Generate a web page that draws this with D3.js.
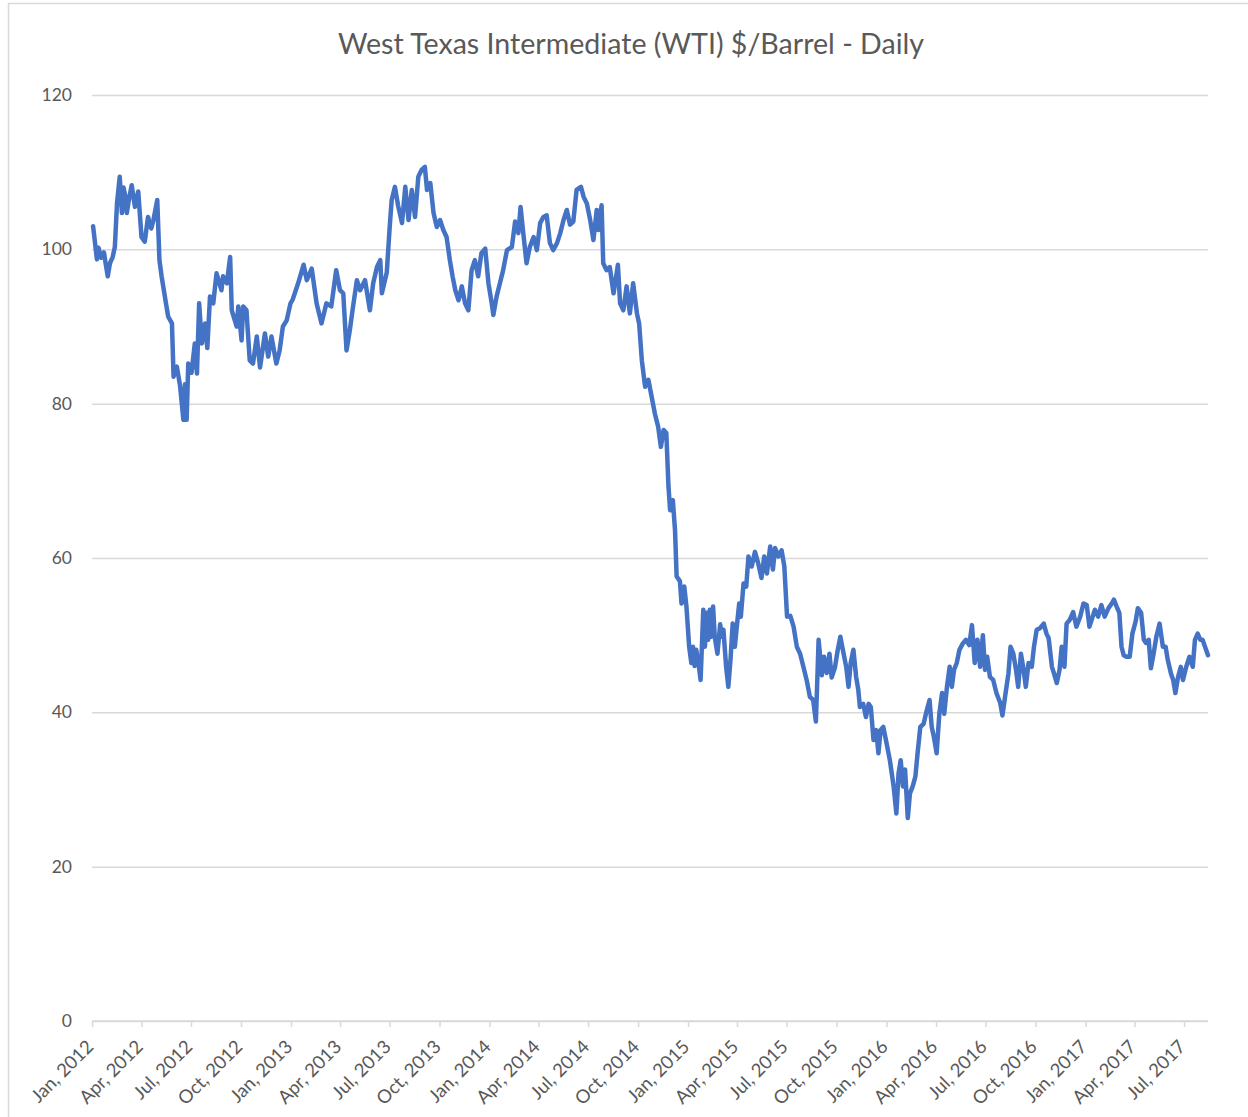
<!DOCTYPE html>
<html>
<head>
<meta charset="utf-8">
<script src="https://cdn.jsdelivr.net/npm/d3@7"></script>
<style>
  html, body { margin: 0; padding: 0; background: #fff; }
  svg { display: block; }
  text { font-family: Lato, "Open Sans", sans-serif; fill: #595959; }
</style>
</head>
<body>
<svg id="chart" width="1248" height="1117"></svg>
<script>
const title = "West Texas Intermediate (WTI) $/Barrel - Daily";
const yTicks = [0, 20, 40, 60, 80, 100, 120];
const tickDates = ["2012-01-01","2012-04-01","2012-07-01","2012-10-01","2013-01-01","2013-04-01","2013-07-01","2013-10-01","2014-01-01","2014-04-01","2014-07-01","2014-10-01","2015-01-01","2015-04-01","2015-07-01","2015-10-01","2016-01-01","2016-04-01","2016-07-01","2016-10-01","2017-01-01","2017-04-01","2017-07-01"];
const tickLabels = ["Jan, 2012","Apr, 2012","Jul, 2012","Oct, 2012","Jan, 2013","Apr, 2013","Jul, 2013","Oct, 2013","Jan, 2014","Apr, 2014","Jul, 2014","Oct, 2014","Jan, 2015","Apr, 2015","Jul, 2015","Oct, 2015","Jan, 2016","Apr, 2016","Jul, 2016","Oct, 2016","Jan, 2017","Apr, 2017","Jul, 2017"];
const axisStart = "2012-01-01";
const axisEnd = "2017-08-14";

const dates = [
"2012-01-03","2012-01-05","2012-01-10","2012-01-13","2012-01-18","2012-01-23","2012-01-26","2012-01-30","2012-02-03","2012-02-08","2012-02-12","2012-02-16","2012-02-21","2012-02-25","2012-02-28","2012-03-02","2012-03-05","2012-03-09","2012-03-14","2012-03-20","2012-03-26","2012-04-01","2012-04-07","2012-04-13","2012-04-19","2012-04-23","2012-04-30","2012-05-04","2012-05-08","2012-05-16","2012-05-20","2012-05-27","2012-05-30","2012-06-05","2012-06-11","2012-06-17","2012-06-20","2012-06-23","2012-06-26","2012-07-02","2012-07-08","2012-07-12","2012-07-16","2012-07-21","2012-07-27","2012-07-31","2012-08-05","2012-08-11","2012-08-17","2012-08-26","2012-08-29","2012-09-05","2012-09-11","2012-09-14","2012-09-23","2012-09-26","2012-10-02","2012-10-05","2012-10-11","2012-10-17","2012-10-23","2012-10-30","2012-11-05","2012-11-14","2012-11-20","2012-11-26","2012-12-05","2012-12-11","2012-12-17","2012-12-24","2012-12-31",
"2013-01-04","2013-01-14","2013-01-24","2013-01-30","2013-02-08","2013-02-17","2013-02-26","2013-03-07","2013-03-16","2013-03-25","2013-04-01","2013-04-07","2013-04-13","2013-04-19","2013-04-25","2013-05-02","2013-05-08","2013-05-17","2013-05-26","2013-06-01","2013-06-08","2013-06-14","2013-06-17","2013-06-26","2013-07-01","2013-07-05","2013-07-11","2013-07-17","2013-07-24","2013-07-30","2013-08-05","2013-08-11","2013-08-17","2013-08-23","2013-08-29","2013-09-04","2013-09-08","2013-09-14","2013-09-20","2013-09-26","2013-10-02","2013-10-08","2013-10-14","2013-10-20","2013-10-25","2013-10-30","2013-11-05","2013-11-11","2013-11-17","2013-11-23","2013-11-29","2013-12-05","2013-12-11","2013-12-17","2013-12-24","2013-12-30",
"2014-01-05","2014-01-08","2014-01-14","2014-01-20","2014-01-26","2014-02-02","2014-02-11","2014-02-17","2014-02-23","2014-02-27","2014-03-04","2014-03-10","2014-03-16","2014-03-23","2014-03-29","2014-04-04","2014-04-10","2014-04-16","2014-04-22","2014-04-28","2014-05-05","2014-05-11","2014-05-17","2014-05-23","2014-05-29","2014-06-04","2014-06-10","2014-06-18","2014-06-23","2014-06-29","2014-07-05","2014-07-11","2014-07-17","2014-07-20","2014-07-26","2014-07-29","2014-08-04","2014-08-10","2014-08-17","2014-08-25","2014-08-29","2014-09-04","2014-09-10","2014-09-16","2014-09-22","2014-09-29","2014-10-03","2014-10-08","2014-10-14","2014-10-20","2014-10-26","2014-11-01","2014-11-07","2014-11-12","2014-11-17","2014-11-22","2014-11-26","2014-11-29","2014-12-04","2014-12-08","2014-12-11","2014-12-17","2014-12-20","2014-12-25","2014-12-29",
"2015-01-03","2015-01-07","2015-01-10","2015-01-13","2015-01-16","2015-01-21","2015-01-24","2015-01-29","2015-02-01","2015-02-04","2015-02-07","2015-02-10","2015-02-13","2015-02-16","2015-02-19","2015-02-24","2015-03-01","2015-03-04","2015-03-07","2015-03-12","2015-03-16","2015-03-20","2015-03-24","2015-03-28","2015-03-31","2015-04-05","2015-04-08","2015-04-13","2015-04-18","2015-04-22","2015-04-28","2015-05-04","2015-05-10","2015-05-16","2015-05-21","2015-05-26","2015-06-01","2015-06-06","2015-06-10","2015-06-16","2015-06-22","2015-06-27","2015-07-02","2015-07-08","2015-07-14","2015-07-20","2015-07-26","2015-08-01","2015-08-07","2015-08-13","2015-08-19","2015-08-24","2015-08-27","2015-08-29","2015-09-04","2015-09-08","2015-09-13","2015-09-18","2015-09-22","2015-09-28","2015-10-03","2015-10-08","2015-10-14","2015-10-19","2015-10-23","2015-10-27","2015-11-01","2015-11-06","2015-11-10","2015-11-13","2015-11-19","2015-11-24","2015-11-29","2015-12-03","2015-12-08","2015-12-13","2015-12-17","2015-12-21","2015-12-26",
"2016-01-01","2016-01-07","2016-01-14","2016-01-19","2016-01-23","2016-01-27","2016-01-31","2016-02-04","2016-02-09","2016-02-13","2016-02-18","2016-02-23","2016-02-27","2016-03-03","2016-03-09","2016-03-15","2016-03-20","2016-03-24","2016-03-28","2016-04-02","2016-04-07","2016-04-12","2016-04-16","2016-04-21","2016-04-26","2016-04-30","2016-05-04","2016-05-09","2016-05-14","2016-05-20","2016-05-26","2016-06-01","2016-06-06","2016-06-11","2016-06-16","2016-06-21","2016-06-26","2016-06-30","2016-07-04","2016-07-09","2016-07-15","2016-07-21","2016-07-28","2016-08-01","2016-08-06","2016-08-12","2016-08-16","2016-08-21","2016-08-26","2016-08-30","2016-09-04","2016-09-09","2016-09-13","2016-09-18","2016-09-24","2016-09-28","2016-10-03","2016-10-09","2016-10-16","2016-10-21","2016-10-25","2016-10-31","2016-11-04","2016-11-09","2016-11-14","2016-11-18","2016-11-23","2016-11-27","2016-12-03","2016-12-09","2016-12-15","2016-12-22","2016-12-28",
"2017-01-03","2017-01-08","2017-01-14","2017-01-18","2017-01-24","2017-01-30","2017-02-05","2017-02-12","2017-02-18","2017-02-22","2017-02-27","2017-03-04","2017-03-08","2017-03-12","2017-03-17","2017-03-23","2017-03-28","2017-04-03","2017-04-07","2017-04-13","2017-04-18","2017-04-22","2017-04-27","2017-05-01","2017-05-06","2017-05-11","2017-05-17","2017-05-23","2017-05-28","2017-06-01","2017-06-07","2017-06-11","2017-06-15","2017-06-20","2017-06-25","2017-06-29","2017-07-05","2017-07-11","2017-07-17","2017-07-21","2017-07-26","2017-07-31","2017-08-04","2017-08-14"
];

const prices = [
103.0,101.8,98.7,100.2,98.9,99.6,98.2,96.5,98.2,99.0,100.3,106.0,109.4,104.7,108.0,107.0,104.7,106.5,108.3,105.5,107.5,101.6,101.0,104.2,102.7,103.8,106.4,98.6,96.5,93.0,91.3,90.4,83.5,84.8,82.3,77.9,82.5,77.9,85.2,84.0,87.8,83.9,93.0,87.8,90.4,87.2,93.9,93.0,96.9,94.7,96.5,95.6,99.0,92.1,90.0,92.6,88.2,92.6,92.1,85.6,85.2,88.7,84.7,89.1,86.1,88.7,85.2,86.9,90.0,90.8,93.0,
93.5,95.6,98.0,96.0,97.5,93.0,90.4,93.0,92.6,97.3,94.7,94.3,86.9,89.5,92.6,96.0,94.7,96.0,92.1,95.6,97.7,98.6,94.3,97.0,102.5,106.4,108.1,105.6,103.4,108.1,103.8,107.7,104.2,109.4,110.3,110.7,107.7,108.6,104.7,102.9,103.8,102.5,101.6,98.6,96.5,94.7,93.4,95.2,93.0,92.1,97.3,98.6,96.5,99.5,100.1,95.6,
93.0,91.5,93.9,95.6,97.3,99.9,100.3,103.6,102.1,105.5,102.1,98.2,100.3,101.6,99.9,103.4,104.2,104.4,100.8,99.9,100.8,102.1,103.8,105.1,103.2,103.6,107.7,108.1,106.8,105.9,103.8,101.2,105.1,102.5,105.7,98.2,97.3,97.7,94.3,98.0,93.0,92.1,95.2,91.7,95.6,91.7,90.4,85.6,82.2,83.1,80.9,78.7,77.0,74.4,76.6,76.2,69.2,66.2,67.5,63.6,57.6,57.0,54.1,56.3,53.7,
48.5,46.4,48.5,46.0,48.1,45.9,44.2,53.3,48.5,52.9,49.4,53.3,49.8,53.7,49.8,47.6,51.4,49.8,50.7,45.9,43.3,46.8,51.5,48.5,50.7,54.1,52.4,56.7,56.3,60.2,58.9,60.8,59.3,57.4,60.2,58.0,61.5,58.5,61.3,60.2,61.0,58.9,52.4,52.5,51.1,48.5,47.6,45.9,44.2,42.0,41.6,38.8,45.0,49.4,44.8,47.2,45.1,47.6,44.5,45.8,48.0,49.8,47.6,45.8,43.3,46.4,48.1,44.6,42.9,40.7,41.1,39.4,41.1,40.7,36.4,37.7,34.7,37.7,38.1,
36.0,33.8,30.4,26.9,32.1,33.8,30.4,32.6,26.3,29.5,30.4,31.7,34.7,38.1,38.5,40.3,41.6,38.1,36.8,34.7,39.8,42.5,39.8,43.3,45.9,43.3,45.5,46.4,48.1,48.9,49.4,48.7,51.3,46.4,49.4,45.9,50.0,45.5,47.2,44.6,44.2,42.5,41.2,39.6,42.1,45.0,48.5,47.6,45.5,43.3,47.6,45.5,43.3,46.4,45.9,48.5,50.7,50.9,51.5,50.2,49.6,45.9,45.0,43.8,45.5,48.5,45.9,51.5,52.0,53.0,51.1,52.4,54.1,
53.9,51.1,52.4,53.3,52.4,53.9,52.4,53.5,54.1,54.6,53.7,52.9,48.5,47.4,47.2,47.2,50.2,51.8,53.5,52.9,49.4,49.0,49.4,45.7,47.6,49.8,51.5,48.5,48.5,46.8,45.0,44.2,42.5,44.6,45.9,44.2,45.9,47.2,45.9,49.4,50.2,49.4,49.4,47.4
];

(function () {
  const parse = d3.utcParse("%Y-%m-%d");
  const data = dates.map((d, i) => ({ date: parse(d), value: prices[i] }));

  const svg = d3.select("#chart");
  const mLeft = 92, mRight = 1208, mTop = 95, mBottom = 1021;

  // chart frame
  svg.append("rect")
    .attr("x", 8.5).attr("y", 3.5)
    .attr("width", 1260).attr("height", 1130)
    .attr("fill", "#fff")
    .attr("stroke", "#d9d9d9").attr("stroke-width", 1.5);

  const x = d3.scaleUtc().domain([parse(axisStart), parse(axisEnd)]).range([mLeft, mRight]);
  const y = d3.scaleLinear().domain([0, 120]).range([mBottom, mTop]);

  // gridlines + y labels
  const yAxis = d3.axisLeft(y).tickValues(yTicks).tickSize(-(mRight - mLeft)).tickPadding(20);
  const gy = svg.append("g").attr("transform", `translate(${mLeft},0)`).call(yAxis);
  gy.select(".domain").remove();
  gy.selectAll(".tick line").attr("stroke", "#d9d9d9").attr("stroke-width", 1.5);
  gy.selectAll(".tick text")
    .attr("x", -20)
    .style("font-family", "Lato, 'Open Sans', sans-serif")
    .style("font-size", "17.5px").attr("fill", "#595959");

  // x axis
  const xAxis = d3.axisBottom(x)
    .tickValues(tickDates.map(parse))
    .tickSize(6)
    .tickFormat((d, i) => tickLabels[i]);
  const gx = svg.append("g").attr("transform", `translate(0,${mBottom})`).call(xAxis);
  gx.select(".domain").attr("stroke", "#d9d9d9").attr("stroke-width", 1.5)
    .attr("d", `M${mLeft},0H${mRight}`);
  gx.selectAll(".tick line").attr("stroke", "#d9d9d9").attr("stroke-width", 1.5);
  gx.selectAll(".tick text")
    .style("font-family", "Lato, 'Open Sans', sans-serif")
    .style("font-size", "18.5px").attr("fill", "#595959")
    .attr("text-anchor", "end")
    .attr("dy", null)
    .attr("y", 0)
    .attr("transform", "translate(2,27) rotate(-45)");

  // line
  const line = d3.line().x(d => x(d.date)).y(d => y(d.value));
  svg.append("path")
    .datum(data)
    .attr("fill", "none")
    .attr("stroke", "#4472C4")
    .attr("stroke-width", 4.5)
    .attr("stroke-linejoin", "round")
    .attr("stroke-linecap", "round")
    .attr("d", line);

  // title
  const t = svg.append("text")
    .attr("x", 631).attr("y", 54)
    .attr("text-anchor", "middle")
    .style("font-family", "Lato, 'Open Sans', sans-serif")
    .style("font-size", "27px")
    .attr("fill", "#595959")
    .text(title);
  const w = t.node().getComputedTextLength();
  t.style("font-size", (27 * 586 / w).toFixed(2) + "px");
})();
</script>
</body>
</html>
